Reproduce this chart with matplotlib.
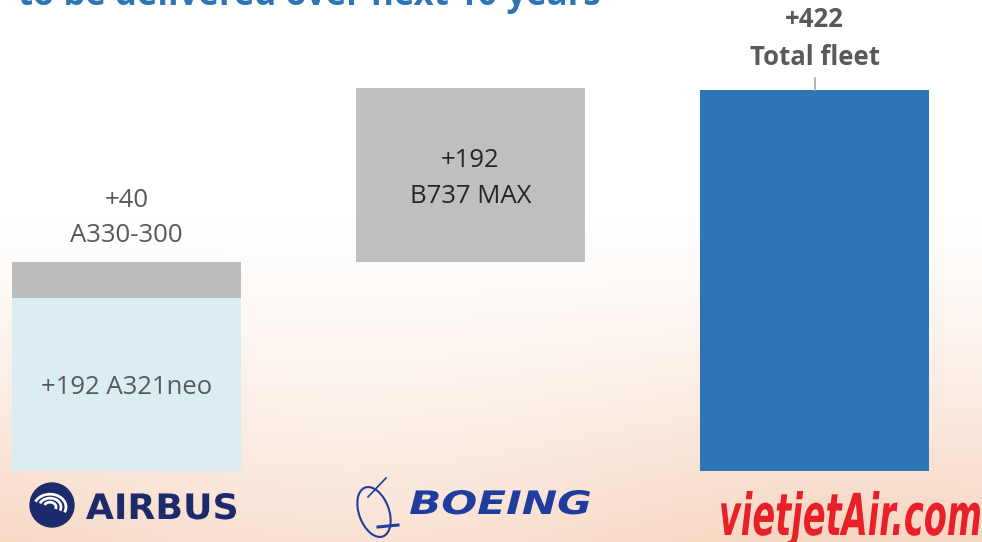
import numpy as np
import matplotlib.pyplot as plt
from matplotlib.patches import Circle, Ellipse, Arc, PathPatch
from matplotlib.textpath import TextPath
from matplotlib.font_manager import FontProperties
from matplotlib.transforms import Affine2D

plt.rcParams['font.family'] = ['Open Sans', 'DejaVu Sans']

# valores del grafico (aviones a entregar)
groups = ['Airbus', 'Boeing', 'Total']
a321neo = 192
a330 = 40
b737max = 192
total = 422

labels_a321 = '+192 A321neo'
labels_a330 = '+40\nA330-300'
labels_b737 = '+192\nB737 MAX'
labels_total = '+422\nTotal fleet'
title = 'to be delivered over next 10 years'

W, H = 982, 542
fig = plt.figure(figsize=(W / 100, H / 100), dpi=100)

# fondo tipo foto de nubes: gradiente blanco -> durazno
bg = fig.add_axes([0, 0, 1, 1], zorder=0)
yy = np.linspace(0, 1, 200)[:, None]
xx = np.linspace(0, 1, 300)[None, :]
t = np.clip((yy - 0.4) / 0.6, 0, 1) ** 1.2
t = t * (0.85 + 0.15 * np.cos(xx * 6.0 + 1.0))
white = np.array([1.0, 1.0, 1.0])
peach = np.array([0.97, 0.84, 0.76])
img = white[None, None, :] * (1 - t[..., None]) + peach[None, None, :] * t[..., None]
bg.imshow(img, extent=[0, 1, 1, 0], aspect='auto')
bg.set_xlim(0, 1)
bg.set_ylim(1, 0)
bg.axis('off')

ax = fig.add_axes([0, 0, 1, 1], zorder=1)
ax.patch.set_alpha(0)
px = 0.9028  # pixeles por avion
spacing = 344
ax.set_xlim(-126.5 / spacing, (W - 126.5) / spacing)
ax.set_ylim(-71 / px, (H - 71) / px)
ax.axis('off')

bw = 229 / spacing
ax.bar(0, a321neo, width=bw, color='#daedf3')
ax.bar(0, a330, bottom=a321neo, width=bw, color='#bdbbbb')
ax.bar(1, b737max, bottom=a321neo + a330, width=bw, color='#bfbfbf')
ax.bar(2, total, width=bw, color='#2e75b6')

fs = 18.5
ax.text(0, a321neo / 2 - 3, labels_a321, ha='center', va='center', fontsize=fs, color='#595959')
ax.text(0, a321neo + a330 + 48, labels_a330, ha='center', va='center', fontsize=fs,
        color='#595959', linespacing=1.54)
ax.text(1, a321neo + a330 + b737max - 100, labels_b737, ha='center', va='center', fontsize=fs,
        color='#262626', linespacing=1.54)
ax.plot([2, 2], [total, total + 13], color='#a6a6a6', lw=1.2)
ax.text(2, total + 57, labels_total, ha='center', va='center', fontsize=fs,
        color='#595959', fontweight='bold', linespacing=1.54)

# titulo cortado arriba
fig.text(18 / W, 1 - 5 / H, title, ha='left', va='baseline', fontsize=25,
         fontweight='bold', color='#2e75b6')

# logos (aproximados con texto)
lg = fig.add_axes([0, 0, 1, 1], zorder=2)
lg.set_xlim(0, W)
lg.set_ylim(H, 0)
lg.axis('off')
lg.patch.set_alpha(0)


def boxed_text(s, x0, x1, ybase, height, color, weight='bold', style='normal', family='DejaVu Sans'):
    # texto estirado para llenar una caja (ancho x0-x1, altura sobre la linea base)
    tp = TextPath((0, 0), s, size=1, prop=FontProperties(family=family, weight=weight, style=style))
    ext = tp.get_extents()
    sx = (x1 - x0) / ext.width
    sy = height / ext.y1
    tr = Affine2D().translate(-ext.x0, 0).scale(sx, -sy).translate(x0, ybase)
    lg.add_patch(PathPatch(tr.transform_path(tp), color=color, lw=0))


navy = '#1d2a6b'
lg.add_patch(Circle((52, 505), 22, color=navy))
for r in [16, 11, 6]:
    lg.add_patch(Arc((50, 507), 2 * r, 2 * r * 0.8, theta1=200, theta2=20, color='white', lw=2))
boxed_text('AIRBUS', 86, 236, 519, 26, navy)

blue = '#1f3d9e'
lg.add_patch(Ellipse((374, 512), 30, 52, angle=-20, fill=False, ec=blue, lw=1.5))
lg.plot([378, 398], [527, 525], color=blue, lw=2.2)
lg.plot([368, 386], [497, 478], color=blue, lw=1.2)
boxed_text('BOEING', 410, 590, 514, 24, blue, style='italic')

boxed_text('vietjetAir.com', 721, 980, 535, 44, '#e8202a', style='italic')

fig.savefig('out.png', dpi=100)
